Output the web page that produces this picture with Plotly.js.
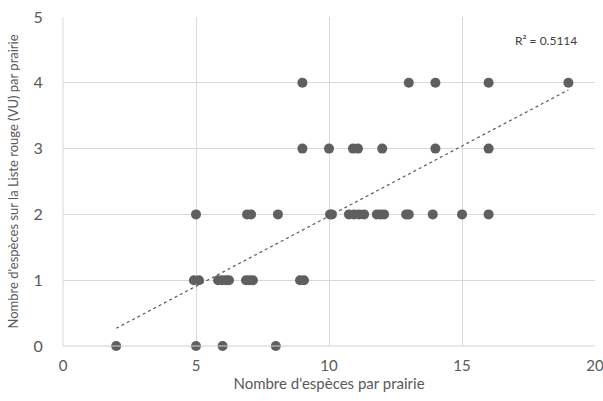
<!DOCTYPE html>
<html>
<head>
<meta charset="utf-8">
<script src="https://cdn.plot.ly/plotly-3.0.1.min.js"></script>
<style>html,body{margin:0;padding:0;background:#fff;}#chart{width:603px;height:401px;}</style>
</head>
<body>
<div id="chart"></div>
<script>
// Number of species per meadow (x) and number of Red List (VU) species (y)
const especesParPrairie = [
  2, 5, 6, 8,
  4.92, 5.11, 5.83, 5.98, 6.13, 6.24, 6.88, 7.01, 7.14, 8.91, 9.06,
  5.0, 6.92, 7.07, 8.08, 10.04, 10.11, 10.75, 10.94, 11.13, 11.32, 11.8, 11.94, 12.07, 12.9, 13.0, 13.9, 15.0, 16.0,
  9.0, 10.0, 10.9, 11.09, 12.0, 14.0, 16.0,
  9.0, 13.0, 14.0, 16.0, 19.0
];
const especesListeRouge = [
  0, 0, 0, 0,
  1, 1, 1, 1, 1, 1, 1, 1, 1, 1, 1,
  2, 2, 2, 2, 2, 2, 2, 2, 2, 2, 2, 2, 2, 2, 2, 2, 2, 2,
  3, 3, 3, 3, 3, 3, 3,
  4, 4, 4, 4, 4
];
const r2Label = "R² = 0.5114";
const xTicks = [0, 5, 10, 15, 20];
const yTicks = [0, 1, 2, 3, 4, 5];

// Linear least-squares trendline over the data range
const n = especesParPrairie.length;
let sx = 0, sy = 0, sxx = 0, sxy = 0;
for (let i = 0; i < n; i++) {
  const x = especesParPrairie[i], y = especesListeRouge[i];
  sx += x; sy += y; sxx += x * x; sxy += x * y;
}
const slope = (n * sxy - sx * sy) / (n * sxx - sx * sx);
const intercept = (sy - slope * sx) / n;
const xmin = Math.min(...especesParPrairie), xmax = Math.max(...especesParPrairie);
const trendX = [xmin, xmax];
const trendY = trendX.map(x => intercept + slope * x);

const font = "Lato, 'Open Sans', sans-serif";
const grid = "#d9d9d9";

const data = [
  {
    type: "scatter", mode: "markers",
    x: especesParPrairie, y: especesListeRouge,
    marker: {color: "#5f5f5f", size: 10},
    hoverinfo: "x+y", showlegend: false, cliponaxis: false
  },
  {
    type: "scatter", mode: "lines",
    x: trendX, y: trendY,
    line: {color: "#5a5a5a", width: 1.2, dash: "dot"},
    hoverinfo: "skip", showlegend: false
  }
];

const layout = {
  width: 603, height: 401,
  margin: {l: 63, r: 8, t: 17, b: 55},
  paper_bgcolor: "#ffffff", plot_bgcolor: "#ffffff",
  font: {family: font, color: "#595959", size: 15},
  xaxis: {
    range: [0, 20], tickvals: xTicks, ticktext: xTicks.map(String),
    showgrid: true, gridcolor: grid, gridwidth: 1,
    zeroline: false, showline: false,
    ticks: "outside", ticklen: 6, tickcolor: "rgba(0,0,0,0)",
    ticklabeloverflow: "allow",
    tickfont: {family: font, size: 15, color: "#595959"},
    title: {text: "Nombre d'espèces par prairie", font: {family: font, size: 15, color: "#595959"}, standoff: 3}
  },
  yaxis: {
    range: [0, 5], tickvals: yTicks, ticktext: yTicks.map(String),
    showgrid: true, gridcolor: grid, gridwidth: 1,
    zeroline: false, showline: false,
    ticks: "outside", ticklen: 16, tickcolor: "rgba(0,0,0,0)",
    ticklabeloverflow: "allow",
    tickfont: {family: font, size: 16, color: "#595959"},
    title: {text: "Nombre d'espèces sur la Liste rouge (VU) par prairie", font: {family: font, size: 13, color: "#595959"}, standoff: 11}
  },
  shapes: [
    {type: "line", xref: "paper", yref: "paper", x0: 0, x1: 0, y0: 0, y1: 1, line: {color: grid, width: 1}},
    {type: "line", xref: "paper", yref: "paper", x0: 0, x1: 1, y0: 0, y1: 0, line: {color: "#d0d0d0", width: 1}}
  ],
  annotations: [
    {xref: "paper", yref: "paper", x: 0.97, y: 0.93, xanchor: "right", yanchor: "middle",
     text: r2Label, showarrow: false, font: {family: font, size: 12, color: "#404040"}}
  ]
};

Plotly.newPlot("chart", data, layout, {displayModeBar: false, staticPlot: true});
</script>
</body>
</html>
